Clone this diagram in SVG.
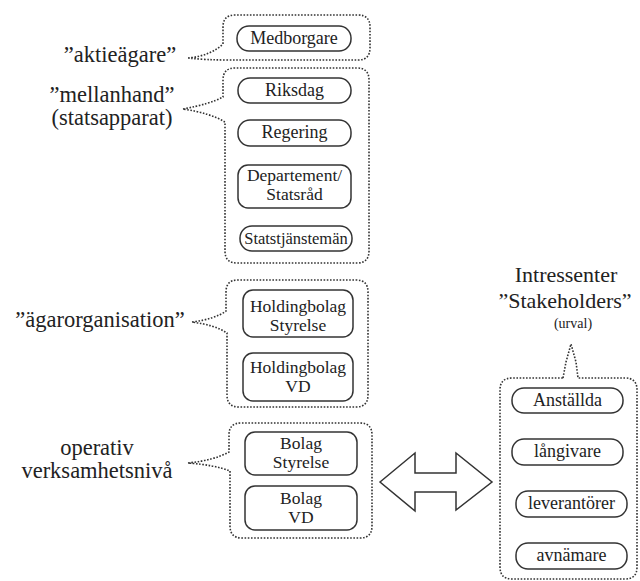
<svg xmlns="http://www.w3.org/2000/svg" width="640" height="581" viewBox="0 0 640 581">
<style>
  .bg { fill: #ffffff; }
  .grp { fill: none; stroke: #333; stroke-width: 1.6; stroke-dasharray: 1.6 1.6; stroke-linejoin: round; }
  .node { fill: #ffffff; stroke: #333; stroke-width: 1.5; }
  .t { font-family: "Liberation Serif", "Times New Roman", serif; fill: #222; text-anchor: middle; }
  .nt { font-size: 18px; }
  .nt2 { font-size: 17.5px; }
  .lbl { font-size: 22.5px; }
  .arrow { fill: #ffffff; stroke: #333; stroke-width: 1.5; stroke-linejoin: miter; }
</style>
<rect class="bg" x="0" y="0" width="640" height="581"/>

<g id="connectors">
  <path id="grp-aktieagare" class="grp" d="M188,58 Q210,56 223,44 L223,27 Q223,15 235,15 L358,15 Q370,15 370,27 L370,48 Q370,60 358,60 L230,60 Q205,60 188,58 Z"/>
  <path id="grp-mellanhand" class="grp" d="M183,109 Q210,104 223,97 L223,80 Q223,68 235,68 L357,68 Q369,68 369,80 L369,251 Q369,263 357,263 L237,263 Q225,263 225,251 L225,122 Q210,113 183,109 Z"/>
  <path id="grp-agarorg" class="grp" d="M192,322 Q215,319 226,311 L226,292 Q226,280 238,280 L356,280 Q368,280 368,292 L368,395 Q368,407 356,407 L239,407 Q227,407 227,395 L227,333 Q215,325 192,322 Z"/>
  <path id="grp-operativ" class="grp" d="M188,463 Q215,460 229,452 L229,435 Q229,423 241,423 L360,423 Q372,423 372,435 L372,526 Q372,538 360,538 L242,538 Q230,538 230,526 L230,471 Q215,465 188,463 Z"/>
  <path id="grp-stakeholders" class="grp" d="M563,378 L566,362 L571,344 L576,362 L578,378 L625,378 Q637,378 637,390 L637,567 Q637,579 625,579 L512,579 Q500,579 500,567 L500,390 Q500,378 512,378 Z"/>
  <polygon id="double-arrow" class="arrow" points="380,482 415,453 415,473 456,473 456,453 492,482 456,510 456,492 415,492 415,511"/>
</g>

<g id="label-aktieagare"><text class="t lbl" x="120" y="62">”aktieägare”</text></g>
<g id="label-mellanhand">
  <text class="t lbl" x="112" y="102">”mellanhand”</text>
  <text class="t lbl" x="112" y="125">(statsapparat)</text>
</g>
<g id="label-agarorganisation"><text class="t lbl" x="100" y="327">”ägarorganisation”</text></g>
<g id="label-operativ">
  <text class="t lbl" x="97" y="455">operativ</text>
  <text class="t lbl" x="97" y="478">verksamhetsnivå</text>
</g>
<g id="label-intressenter">
  <text class="t" style="font-size:22px" x="566" y="282">Intressenter</text>
  <text class="t" style="font-size:22px" x="565" y="308">”Stakeholders”</text>
  <text class="t" style="font-size:14px" x="573" y="328">(urval)</text>
</g>

<g id="node-medborgare">
  <rect class="node" x="237" y="26" width="114" height="25" rx="12"/>
  <text class="t nt" x="294" y="44">Medborgare</text>
</g>
<g id="node-riksdag">
  <rect class="node" x="238" y="78" width="113" height="25" rx="12"/>
  <text class="t nt" x="294.5" y="96">Riksdag</text>
</g>
<g id="node-regering">
  <rect class="node" x="238" y="120" width="113" height="26" rx="12"/>
  <text class="t nt" x="294.5" y="138">Regering</text>
</g>
<g id="node-departement">
  <rect class="node" x="238" y="165" width="113" height="43" rx="10"/>
  <text class="t nt2" x="294.5" y="181">Departement/</text>
  <text class="t nt2" x="294.5" y="200">Statsråd</text>
</g>
<g id="node-statstjanstemän">
  <rect class="node" x="240" y="226" width="112" height="25" rx="12"/>
  <text class="t" style="font-size:16.5px" x="296" y="244">Statstjänstemän</text>
</g>
<g id="node-holding-styrelse">
  <rect class="node" x="243" y="290" width="110" height="47" rx="10"/>
  <text class="t nt2" x="298" y="312">Holdingbolag</text>
  <text class="t nt2" x="298" y="331">Styrelse</text>
</g>
<g id="node-holding-vd">
  <rect class="node" x="243" y="353" width="110" height="48" rx="10"/>
  <text class="t nt2" x="298" y="373">Holdingbolag</text>
  <text class="t nt2" x="298" y="392">VD</text>
</g>
<g id="node-bolag-styrelse">
  <rect class="node" x="245" y="432" width="112" height="43" rx="10"/>
  <text class="t nt2" x="301" y="449">Bolag</text>
  <text class="t nt2" x="301" y="468">Styrelse</text>
</g>
<g id="node-bolag-vd">
  <rect class="node" x="245" y="486" width="112" height="44" rx="10"/>
  <text class="t nt2" x="301" y="504">Bolag</text>
  <text class="t nt2" x="301" y="523">VD</text>
</g>
<g id="node-anstallda">
  <rect class="node" x="512" y="388" width="111" height="25" rx="12"/>
  <text class="t nt" x="567.5" y="406">Anställda</text>
</g>
<g id="node-langivare">
  <rect class="node" x="512" y="439" width="111" height="26" rx="12"/>
  <text class="t nt" x="567.5" y="457">långivare</text>
</g>
<g id="node-leverantorer">
  <rect class="node" x="516" y="491" width="111" height="26" rx="12"/>
  <text class="t nt" x="571.5" y="509">leverantörer</text>
</g>
<g id="node-avnamare">
  <rect class="node" x="516" y="543" width="111" height="26" rx="12"/>
  <text class="t nt" x="571.5" y="561">avnämare</text>
</g>
</svg>
